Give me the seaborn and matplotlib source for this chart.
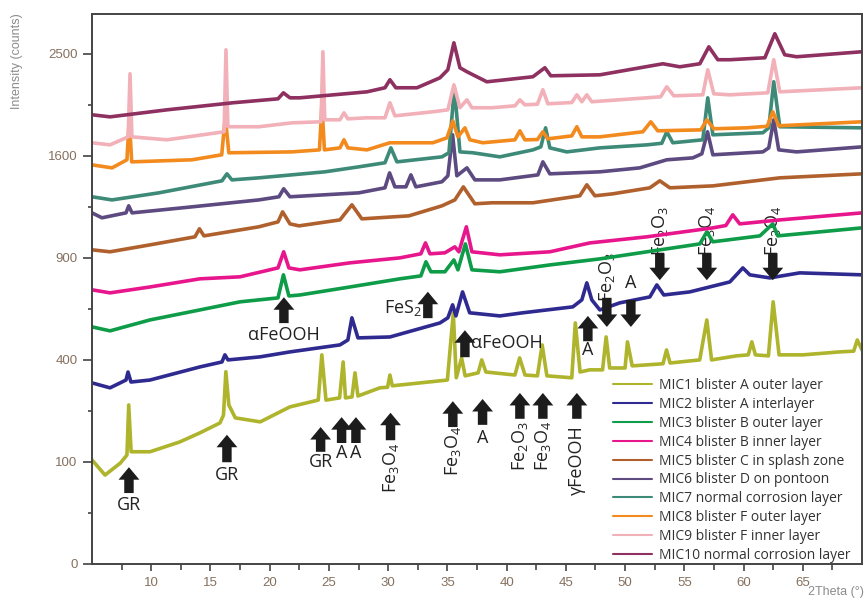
import numpy as np
import pandas as pd
import matplotlib
matplotlib.use("Agg")
import matplotlib.pyplot as plt
import seaborn as sns

# ---------------- data (2theta in degrees, intensity in counts) ----------------
labels = ["MIC1 blister A outer layer", "MIC2 blister A interlayer", "MIC3 blister B outer layer",
          "MIC4 blister B inner layer", "MIC5 blister C in splash zone", "MIC6 blister D on pontoon",
          "MIC7 normal corrosion layer", "MIC8 blister F outer layer", "MIC9 blister F inner layer",
          "MIC10 normal corrosion layer"]
colors = ["#aeb42c", "#2f2a90", "#0e9c48", "#e8168c", "#b0602c",
          "#5c4a80", "#3e8a78", "#f28a1e", "#f2b0b8", "#8e3060"]

mic1_x = [5.0, 6.1, 7.4, 7.95, 8.1, 8.3, 9.9, 12.4, 14.1, 15.8, 16.1, 16.3, 16.55, 17.1, 19.2, 21.7,
          24.1, 24.4, 24.75, 25.9, 26.2, 26.4, 26.95, 27.2, 27.45, 29.3, 29.95, 30.15, 30.35, 32.7,
          35.0, 35.5, 35.75, 36.2, 36.5, 37.6, 37.9, 38.25, 40.7, 41.1, 41.55, 42.6, 43.0, 43.4,
          45.5, 45.8, 46.2, 47.0, 48.1, 48.4, 48.7, 50.0, 50.2, 50.6, 53.2, 53.5, 53.8, 56.3, 56.9,
          57.3, 59.4, 60.4, 60.7, 61.0, 62.1, 62.5, 63.0, 65.0, 68.1, 69.3, 69.6, 70.0]
mic1_y = [104, 76, 98, 114, 243, 121, 121, 143, 165, 191, 213, 355, 243, 205, 194, 237,
          258, 420, 258, 265, 392, 265, 268, 351, 271, 298, 300, 343, 305, 315,
          325, 605, 333, 408, 340, 351, 400, 354, 343, 408, 343, 340, 461, 340,
          333, 558, 354, 362, 362, 495, 369, 369, 474, 377, 385, 440, 388, 400, 572,
          400, 416, 420, 474, 420, 416, 660, 420, 420, 432, 435, 482, 440]

mic2_x = [5.0, 6.52, 7.87, 8.04, 8.29, 9.89, 14.11, 15.97, 16.22, 16.48, 19.18, 21.71, 25.93, 26.6,
          26.94, 27.45, 30.15, 34.37, 35.04, 35.44, 35.72, 36.28, 36.88, 39.43, 41.37, 45.59, 46.35,
          46.77, 47.19, 47.87, 49.56, 52.09, 52.68, 53.27, 55.46, 58.84, 59.94, 60.53, 62.22, 64.75, 70.0]
mic2_y = [315, 298, 325, 354, 318, 325, 373, 392, 420, 400, 412, 432, 461, 482,
          582, 491, 495, 558, 582, 645, 591, 711, 606, 591, 606, 635, 670,
          759, 670, 620, 655, 685, 748, 695, 711, 764, 842, 803, 786, 814, 803]

mic3_x = [5.0, 6.52, 9.89, 14.11, 17.49, 20.7, 21.16, 21.62, 22.55, 26.77, 30.99, 32.76, 33.19, 33.61,
          34.79, 35.55, 35.89, 36.52, 37.07, 39.43, 43.65, 47.87, 51.84, 56.31, 56.9, 57.41, 61.38,
          62.47, 62.89, 70.0]
mic3_y = [540, 522, 572, 620, 660, 680, 803, 690, 695, 737, 781, 797, 877, 820,
          820, 888, 831, 984, 831, 820, 859, 894, 936, 984, 1059, 997, 1034,
          1111, 1034, 1085]

mic4_x = [5.0, 6.52, 9.89, 14.11, 17.49, 20.7, 21.18, 21.62, 22.55, 26.77, 30.99, 32.76, 33.15, 33.53,
          34.79, 35.63, 35.97, 36.6, 37.07, 39.43, 43.65, 47.02, 51.84, 57.41, 58.5, 59.09, 59.68,
          63.06, 70.0]
mic4_y = [722, 706, 737, 781, 792, 842, 936, 842, 831, 871, 900, 924, 990, 924,
          930, 966, 936, 1092, 936, 918, 936, 990, 1028, 1085, 1100, 1171, 1111,
          1137, 1184]

mic5_x = [5.0, 6.52, 9.89, 13.69, 14.07, 14.45, 19.09, 20.7, 21.09, 21.71, 22.47, 25.93, 26.94, 27.78,
          31.75, 34.54, 35.63, 36.35, 37.32, 38.76, 42.22, 46.18, 46.77, 47.45, 48.97, 52.09, 52.93,
          53.78, 57.41, 63.06, 70.0]
mic5_y = [948, 936, 978, 1028, 1079, 1034, 1092, 1124, 1191, 1111, 1098, 1137, 1239, 1144,
          1164, 1232, 1273, 1366, 1246, 1253, 1253, 1302, 1381, 1302, 1316, 1359, 1410,
          1359, 1373, 1432, 1462]

mic6_x = [5.0, 5.84, 7.87, 8.10, 8.38, 13.44, 19.09, 20.78, 21.18, 21.71, 27.53, 29.73, 30.12, 30.57,
          31.5, 31.92, 32.34, 34.54, 35.04, 35.44, 35.8, 36.65, 37.32, 39.43, 42.64, 43.06, 43.65,
          47.87, 51.24, 53.52, 55.72, 56.48, 56.96, 57.41, 61.63, 62.13, 62.55, 62.97, 64.49, 70.0]
mic6_y = [1184, 1151, 1184, 1232, 1184, 1225, 1273, 1295, 1352, 1295, 1323, 1359, 1469, 1366,
          1366, 1454, 1366, 1403, 1447, 1769, 1447, 1507, 1417, 1417, 1454, 1553, 1462,
          1477, 1507, 1569, 1584, 1616, 1794, 1608, 1631, 1663, 1895, 1647, 1631, 1671]

mic7_x = [5.0, 6.69, 10.65, 15.97, 16.39, 16.81, 19.09, 24.66, 27.53, 29.73, 30.23, 30.74, 34.54, 35.13,
          35.59, 36.06, 37.15, 39.43, 42.22, 42.89, 43.29, 43.65, 45.08, 47.87, 51.84, 53.1, 53.52,
          54.03, 56.56, 56.98, 57.41, 61.63, 62.13, 62.55, 63.06, 70.0]
mic7_y = [1295, 1273, 1323, 1410, 1462, 1417, 1432, 1477, 1515, 1546, 1663, 1553, 1592, 1624,
          2178, 1631, 1624, 1592, 1647, 1671, 1827, 1663, 1631, 1663, 1687, 1700, 1794,
          1704, 1728, 2087, 1769, 1786, 1827, 2233, 1836, 1827]

mic8_x = [5.0, 6.69, 7.95, 8.15, 8.35, 13.44, 15.95, 16.25, 16.55, 21.88, 24.2, 24.41, 24.62, 25.93,
          26.27, 26.6, 28.21, 30.15, 33.78, 34.96, 35.46, 35.89, 36.48, 36.9, 37.99, 40.7, 41.12,
          41.54, 42.6, 43.06, 43.48, 45.5, 45.93, 46.35, 47.87, 51.5, 52.17, 52.76, 56.4, 56.9,
          57.49, 60.27, 62.0, 62.47, 62.97, 70.0]
mic8_y = [1530, 1507, 1569, 1912, 1553, 1569, 1608, 1920, 1624, 1631, 1647, 2025, 1647, 1663,
          1728, 1663, 1647, 1704, 1704, 1744, 1886, 1752, 1827, 1728, 1704, 1728, 1802,
          1728, 1730, 1794, 1736, 1760, 1836, 1752, 1752, 1794, 1878, 1802, 1810, 1895,
          1819, 1827, 1840, 1964, 1844, 1878]

mic9_x = [5.0, 6.52, 8.05, 8.21, 8.37, 11.33, 16.15, 16.31, 16.47, 19.09, 21.88, 24.33, 24.49, 24.65,
          25.93, 26.27, 26.6, 28.21, 29.73, 30.15, 30.57, 33.78, 35.04, 35.55, 36.06, 36.65, 37.07,
          38.76, 40.7, 41.12, 41.54, 42.6, 43.06, 43.48, 45.5, 45.93, 46.35, 46.77, 47.19, 53.0,
          53.52, 54.11, 56.56, 56.98, 57.49, 58.84, 62.05, 62.55, 63.06, 70.0]
mic9_y = [1704, 1687, 1752, 2308, 1752, 1728, 1794, 2539, 1836, 1836, 1869, 1878, 2520, 1895,
          1895, 1955, 1903, 1912, 1912, 2043, 1929, 1964, 1981, 2205, 1999, 2069, 1999,
          1999, 2016, 2069, 2025, 2030, 2160, 2034, 2045, 2114, 2052, 2114, 2052, 2096,
          2187, 2105, 2114, 2346, 2123, 2114, 2132, 2442, 2141, 2178]

mic10_x = [5.0, 6.52, 11.33, 16.9, 20.7, 21.16, 21.71, 22.55, 28.21, 29.73, 30.15, 30.65, 32.43, 34.37,
           35.04, 35.55, 36.06, 36.65, 38.33, 42.22, 43.23, 43.73, 47.87, 53.19, 54.62, 56.31, 57.07,
           57.83, 58.84, 61.8, 62.64, 63.48, 64.49, 70.0]
mic10_y = [1938, 1920, 1981, 2043, 2078, 2132, 2087, 2087, 2141, 2178, 2252, 2178, 2178, 2270,
           2346, 2609, 2365, 2327, 2233, 2280, 2365, 2289, 2298, 2403, 2374, 2403, 2569,
           2442, 2442, 2461, 2700, 2490, 2471, 2520]

series_x = [mic1_x, mic2_x, mic3_x, mic4_x, mic5_x, mic6_x, mic7_x, mic8_x, mic9_x, mic10_x]
series_y = [mic1_y, mic2_y, mic3_y, mic4_y, mic5_y, mic6_y, mic7_y, mic8_y, mic9_y, mic10_y]

y_ticks = [0, 100, 400, 900, 1600, 2500]
y_minor = [25, 225, 625, 1225, 2025]
x_ticks = [10, 15, 20, 25, 30, 35, 40, 45, 50, 55, 60, 65]

# phase annotations: (2theta, label, tip, tail, label_y, rotation, ha) ; y in axes fraction
up_arrows = [
    (8.12, "GR", 0.176, 0.129, 0.107, 0, "center"),
    (16.39, "GR", 0.235, 0.185, 0.162, 0, "center"),
    (24.3, "GR", 0.249, 0.204, 0.185, 0, "center"),
    (26.07, "A", 0.267, 0.220, 0.202, 0, "center"),
    (27.28, "A", 0.267, 0.220, 0.202, 0, "center"),
    (30.2, "Fe$_3$O$_4$", 0.275, 0.225, 0.175, 90, "center"),
    (35.46, "Fe$_3$O$_4$", 0.296, 0.249, 0.205, 90, "center"),
    (37.97, "A", 0.300, 0.253, 0.229, 0, "center"),
    (41.12, "Fe$_2$O$_3$", 0.311, 0.264, 0.215, 90, "center"),
    (43.06, "Fe$_3$O$_4$", 0.311, 0.264, 0.215, 90, "center"),
    (45.93, "γFeOOH", 0.311, 0.264, 0.189, 90, "center"),
    (21.2, "αFeOOH", 0.485, 0.438, 0.416, 0, "center"),
    (36.48, "αFeOOH", 0.425, 0.376, 0.402, 0, "left"),
    (46.86, "A", 0.451, 0.405, 0.389, 0, "center"),
]
fes2 = (33.35, 0.495, 0.447)
down_arrows = [
    (48.46, "Fe$_2$O$_3$", 0.431, 0.484, 0.522, 90),
    (50.49, "A", 0.431, 0.480, 0.511, 0),
    (52.93, "Fe$_2$O$_3$", 0.516, 0.565, 0.605, 90),
    (56.9, "Fe$_3$O$_4$", 0.516, 0.565, 0.605, 90),
    (62.47, "Fe$_3$O$_4$", 0.516, 0.565, 0.605, 90),
]

# ---------------- build frame ----------------
frames = []
for lab, xs, ys in zip(labels, series_x, series_y):
    frames.append(pd.DataFrame({"two_theta": xs, "intensity": ys, "sample": lab}))
df = pd.concat(frames, ignore_index=True)

sns.set_style("white")
plt.rcParams["font.family"] = ["Open Sans", "DejaVu Sans"]
plt.rcParams["mathtext.default"] = "regular"

fig = plt.figure(figsize=(8.68, 6.0), dpi=100)
ax = fig.add_axes([92 / 868, 36 / 600, 770 / 868, 550 / 600])

ax.set_yscale("function", functions=(lambda v: np.sqrt(np.clip(v, 0, None)), lambda s: np.square(s)))

sns.lineplot(data=df, x="two_theta", y="intensity", hue="sample", hue_order=labels,
             palette=dict(zip(labels, colors)), estimator=None, sort=False,
             linewidth=2.6, ax=ax)

ax.set_xlim(5, 70)
ax.set_ylim(0, 2905)
ax.set_xticks(x_ticks)
ax.set_xticks(np.arange(7.5, 70, 5), minor=True)
ax.set_yticks(y_ticks)
ax.set_yticks(y_minor, minor=True)
ax.set_yticklabels([str(v) for v in y_ticks])
ax.set_xlabel("")
ax.set_ylabel("")

tick_col = "#85705f"
for lab in ax.get_xticklabels() + ax.get_yticklabels():
    lab.set_family(["Liberation Sans", "DejaVu Sans"])
    lab.set_fontsize(9.5)
    lab.set_color(tick_col)
ax.tick_params(axis="y", which="major", direction="out", length=6.5, width=1.2, color="#444444", pad=4)
ax.tick_params(axis="y", which="minor", direction="out", length=3.2, width=1.2, color="#444444")
ax.tick_params(axis="x", which="major", direction="out", length=5, width=1.2, color="#444444", pad=4)
ax.tick_params(axis="x", which="minor", direction="out", length=4, width=1.2, color="#444444")
ax.tick_params(left=True, bottom=True, which="both")
for sp in ax.spines.values():
    sp.set_color("#444444")
    sp.set_linewidth(1.4)

trans = ax.get_xaxis_transform()
arrow_style = "simple,head_length=0.45,head_width=0.75,tail_width=0.34"
arrow_kw = dict(arrowstyle=arrow_style, mutation_scale=20, fc="#1c1c1c", ec="none",
                shrinkA=0, shrinkB=0)
txt_kw = dict(fontsize=13, color="#222222", transform=trans)

for x, s, tip, tail, ly, rot, ha in up_arrows:
    ax.annotate("", xy=(x, tip), xytext=(x, tail), xycoords=trans, textcoords=trans,
                arrowprops=arrow_kw)
    tx = x + 0.55 if ha == "left" else x
    ax.text(tx, ly, s, ha=ha, va="center", rotation=rot, **txt_kw)

ax.annotate("", xy=(fes2[0], fes2[1]), xytext=(fes2[0], fes2[2]), xycoords=trans,
            textcoords=trans, arrowprops=arrow_kw)
ax.text(fes2[0] - 0.5, 0.465, "FeS$_2$", ha="right", va="center", **txt_kw)

for x, s, tip, tail, ly, rot in down_arrows:
    ax.annotate("", xy=(x, tip), xytext=(x, tail), xycoords=trans, textcoords=trans,
                arrowprops=arrow_kw)
    ax.text(x, ly, s, ha="center", va="center", rotation=rot, zorder=1, **txt_kw)

# legend
handles, labs = ax.get_legend_handles_labels()
leg = ax.legend(handles, labs, loc="upper left", bbox_to_anchor=(613 / 868, 1 - 378 / 600),
                bbox_transform=fig.transFigure, frameon=False, fontsize=10,
                handlelength=2.8, handletextpad=0.5, labelspacing=0.28, borderpad=0,
                borderaxespad=0)
for t in leg.get_texts():
    t.set_color("#333333")
for h in leg.get_lines():
    h.set_linewidth(1.5)

fig.text(17 / 868, 1 - 61 / 600, "Intensity (counts)", rotation=90, ha="center", va="center",
         fontsize=9, color="#8c8c8c", family=["Liberation Sans", "DejaVu Sans"])
fig.text(808 / 868, 1 - 592 / 600, "2Theta (°)", ha="left", va="center",
         fontsize=9, color="#8c8c8c", family=["Liberation Sans", "DejaVu Sans"])

fig.savefig("out.png", dpi=100)
